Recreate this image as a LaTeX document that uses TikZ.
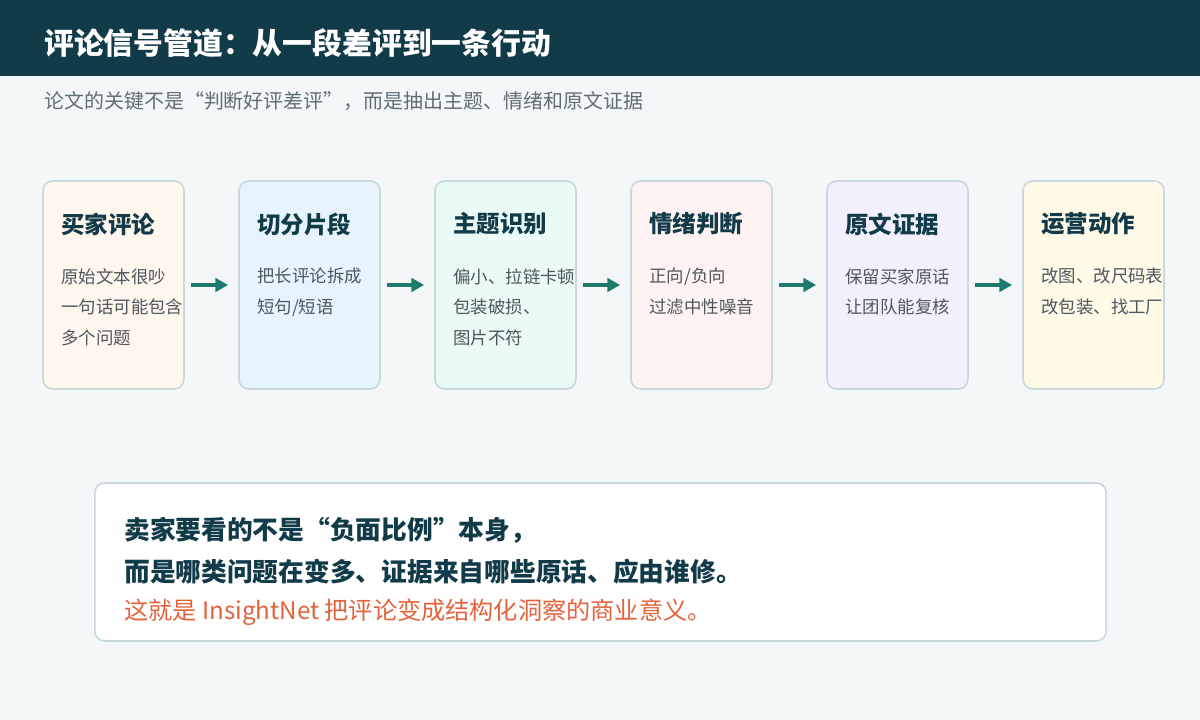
\documentclass[tikz,border=0pt]{standalone}
\usepackage{fontspec}
\setmainfont{Noto Sans CJK SC}
\usetikzlibrary{arrows.meta,positioning}
\usepackage{xcolor}
\definecolor{headBlue}{RGB}{18,59,74}
\definecolor{bgGray}{RGB}{244,247,248}
\definecolor{subGray}{RGB}{94,110,117}
\definecolor{bodyGray}{RGB}{77,88,94}
\definecolor{edgeGray}{RGB}{201,218,223}
\definecolor{flowTeal}{RGB}{31,122,110}
\definecolor{noteOrange}{RGB}{227,99,59}
\definecolor{peach}{RGB}{255,246,238}
\definecolor{skyBlue}{RGB}{232,244,253}
\definecolor{mint}{RGB}{234,251,245}
\definecolor{blush}{RGB}{255,242,242}
\definecolor{lavender}{RGB}{243,240,254}
\definecolor{cream}{RGB}{255,249,232}

\tikzset{
  card/.style={draw=edgeGray, line width=1.2pt, rounded corners=7pt,
    minimum width=3.525cm, minimum height=5.2cm, inner sep=0pt},
  cardtitle/.style={anchor=west, inner sep=0pt, text=headBlue,
    font=\fontsize{16.7pt}{20pt}\selectfont\bfseries},
  cardtext/.style={anchor=north west, inner sep=0pt, align=left, text=bodyGray,
    font=\fontsize{12.4pt}{21.7pt}\selectfont},
  flow/.style={draw=flowTeal, line width=3pt,
    -{Triangle[length=9pt,width=9.5pt]}, shorten <=0.15cm, shorten >=0.25cm},
  panel/.style={draw=edgeGray, fill=white, line width=1.2pt, rounded corners=7pt,
    minimum width=25.275cm, minimum height=3.95cm, inner sep=0pt},
  notebold/.style={anchor=west, inner sep=0pt, text=headBlue,
    font=\fontsize{18.3pt}{22pt}\selectfont\bfseries},
}

\begin{document}
\begin{tikzpicture}[x=0.025cm,y=-0.025cm]
        % background and header
        \fill[bgGray] (0,0) rectangle (1200,720);
        \useasboundingbox (0,0) rectangle (1200,720);
        \fill[headBlue] (0,0) rectangle (1200,76);
        \node[anchor=west, inner sep=0pt, text=white,
          font=\fontsize{21.2pt}{24pt}\selectfont\bfseries] (title) at (44,43)
          {评论信号管道：从一段差评到一条行动};
        \node[anchor=west, inner sep=0pt, text=subGray,
          font=\fontsize{14.2pt}{17pt}\selectfont] (subtitle) at (44,101)
          {论文的关键不是“判断好评差评”，而是抽出主题、情绪和原文证据};

        % cards
        \node[card, fill=peach] (review) at (113.5,285) {};
        \node[card, fill=skyBlue] (split) at (309.5,285) {};
        \node[card, fill=mint] (topic) at (505.5,285) {};
        \node[card, fill=blush] (mood) at (701.5,285) {};
        \node[card, fill=lavender] (quote) at (897.5,285) {};
        \node[card, fill=cream] (action) at (1093.5,285) {};

        \node[cardtitle] (review-t) at (61,224) {买家评论};
        \node[cardtext] (review-b) at (61,268) {原始文本很吵\\一句话可能包含\\多个问题};
        \node[cardtitle] (split-t) at (257,224) {切分片段};
        \node[cardtext] (split-b) at (257,268) {把长评论拆成\\短句/短语};
        \node[cardtitle] (topic-t) at (453,224) {主题识别};
        \node[cardtext] (topic-b) at (453,268) {偏小、拉链卡顿\\包装破损、\\图片不符};
        \node[cardtitle] (mood-t) at (649,224) {情绪判断};
        \node[cardtext] (mood-b) at (649,268) {正向/负向\\过滤中性噪音};
        \node[cardtitle] (quote-t) at (845,224) {原文证据};
        \node[cardtext] (quote-b) at (845,268) {保留买家原话\\让团队能复核};
        \node[cardtitle] (action-t) at (1041,224) {运营动作};
        \node[cardtext] (action-b) at (1041,268) {改图、改尺码表\\改包装、找工厂};

        % arrows
        \draw[flow] (review) -- (split);
        \draw[flow] (split) -- (topic);
        \draw[flow] (topic) -- (mood);
        \draw[flow] (mood) -- (quote);
        \draw[flow] (quote) -- (action);

        % takeaway
        \node[panel] (note) at (600.5,562) {};
        \node[notebold] (note-a) at (124,530) {卖家要看的不是“负面比例”本身，};
        \node[notebold] (note-b) at (124,572) {而是哪类问题在变多、证据来自哪些原话、应由谁修。};
        \node[anchor=west, inner sep=0pt, text=noteOrange,
          font=\fontsize{17.2pt}{20pt}\selectfont] (note-c) at (124,612)
          {这就是 InsightNet 把评论变成结构化洞察的商业意义。};
\end{tikzpicture}
\end{document}
